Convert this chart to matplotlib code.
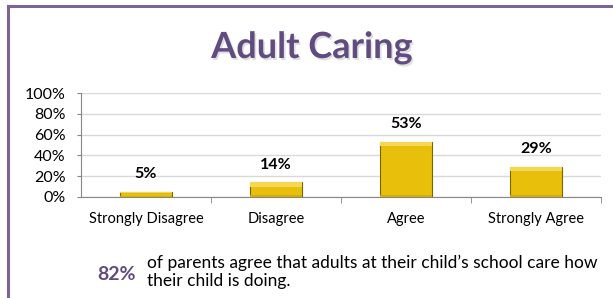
import matplotlib.pyplot as plt
import matplotlib.patheffects as pe
from matplotlib.patches import Rectangle
import numpy as np

categories = ["Strongly Disagree", "Disagree", "Agree", "Strongly Agree"]
values = [0.05, 0.14, 0.53, 0.29]
value_labels = ["5%", "14%", "53%", "29%"]
yticks = [0, 0.2, 0.4, 0.6, 0.8, 1.0]
ytick_labels = ["0%", "20%", "40%", "60%", "80%", "100%"]
title = "Adult Caring"
summary_pct = "82%"
summary_text = "of parents agree that adults at their child\u2019s school care how\ntheir child is doing."

purple = "#614c80"
gold = "#e8c00c"

plt.rcParams["font.family"] = ["Lato", "DejaVu Sans"]

W, H = 613, 298
fig = plt.figure(figsize=(W / 100, H / 100), dpi=100)

# border (purple, top and left only visible)
fig.add_artist(plt.Line2D([7.5 / W, 7.5 / W], [0, 1 - 5.5 / H], color="#7a6596", lw=2.2))
fig.add_artist(plt.Line2D([7.5 / W, 1], [1 - 5.5 / H, 1 - 5.5 / H], color="#7a6596", lw=2.2))

fig.text(312 / W, 1 - 58 / H, title, ha="center", va="baseline", fontsize=26,
         fontweight="bold", color=purple,
         path_effects=[pe.SimplePatchShadow(offset=(1.2, -1.5), alpha=0.18, shadow_rgbFace="#555555"),
                       pe.Normal()])

ax = fig.add_axes([81 / W, 101 / H, 520 / W, 104 / H])
x = np.arange(len(categories))
bars = ax.bar(x, values, width=0.4, color=gold, edgecolor="#7a6500", linewidth=0.8, zorder=3)

# simple bevel: light top band, slightly darker bottom band
for b in bars:
    bx, by, bw, bh = b.get_x(), b.get_y(), b.get_width(), b.get_height()
    edge = min(0.04, bh * 0.3)
    ax.add_patch(Rectangle((bx, by + bh - edge), bw, edge,
                           facecolor="#f4d753", edgecolor="none", zorder=4))
    ax.add_patch(Rectangle((bx, by), bw, edge * 0.6,
                           facecolor="#d4ad06", edgecolor="none", zorder=4))

for xi, v, lab in zip(x, values, value_labels):
    ax.text(xi, v + 0.17, lab, ha="center", va="center", fontsize=11.5, fontweight="bold")

ax.set_xlim(-0.5, len(categories) - 0.5)
ax.set_ylim(0, 1)
ax.set_yticks(yticks)
ax.set_yticklabels(ytick_labels, fontsize=11.5)
ax.set_xticks(x)
ax.set_xticklabels(categories, fontsize=10.5)
ax.tick_params(axis="x", length=0, pad=11)
ax.set_xticks(np.arange(len(categories)) + 0.5, minor=True)
ax.tick_params(axis="x", which="minor", length=4, color="#868686", direction="out")
ax.tick_params(axis="y", length=3, color="#868686", pad=8)
ax.grid(axis="y", color="#d9d9d9", lw=1, zorder=0)
for s in ["top", "right"]:
    ax.spines[s].set_visible(False)
ax.spines["bottom"].set_color("#868686")
ax.spines["left"].set_color("#868686")

fig.text(117 / W, 1 - 274 / H, summary_pct, ha="center", va="center", fontsize=14,
         fontweight="bold", color=purple)
fig.text(147 / W, 1 - 272 / H, summary_text, ha="left", va="center", fontsize=12.5,
         linespacing=1.15)

fig.savefig("out.png", dpi=100, facecolor="white")
